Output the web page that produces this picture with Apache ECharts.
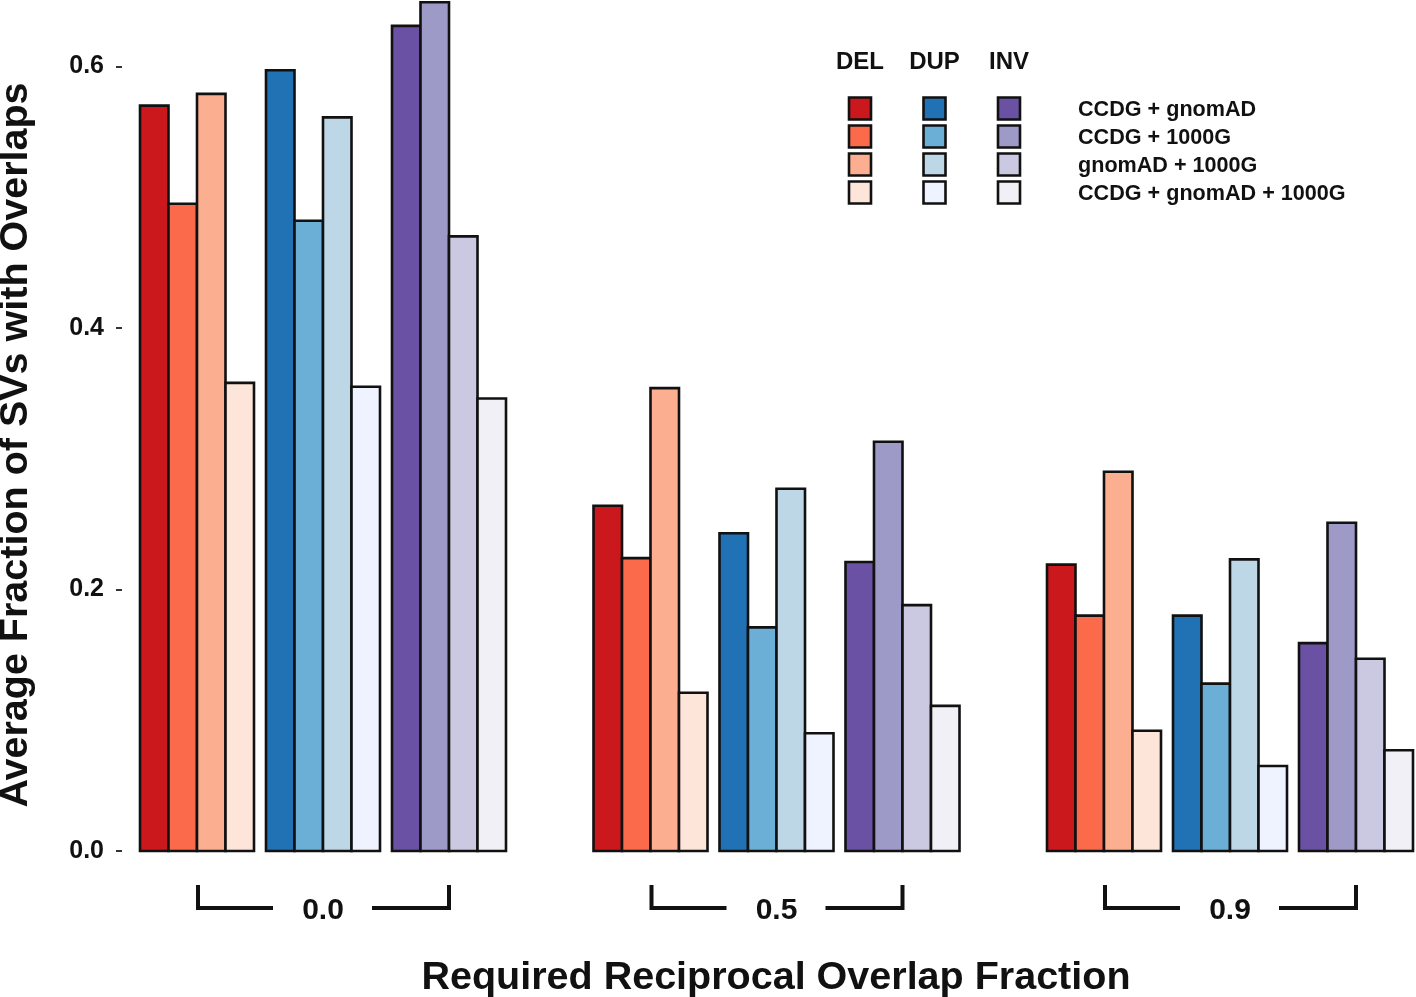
<!DOCTYPE html>
<html>
<head>
<meta charset="utf-8">
<script src="https://cdn.jsdelivr.net/npm/echarts@6/dist/echarts.min.js"></script>
<style>
html,body{margin:0;padding:0;background:#fff;}
#chart{width:1416px;height:997px;}
</style>
</head>
<body>
<div id="chart"></div>
<script>
// ---- data ----
const thresholds = ['0.0', '0.5', '0.9'];
const svTypes = ['DEL', 'DUP', 'INV'];
const sources = ['CCDG + gnomAD', 'CCDG + 1000G', 'gnomAD + 1000G', 'CCDG + gnomAD + 1000G'];
// one row per threshold, one column per source
const delValues = [
  [0.570, 0.495, 0.579, 0.358],
  [0.264, 0.224, 0.354, 0.121],
  [0.219, 0.180, 0.290, 0.092]
];
const dupValues = [
  [0.597, 0.482, 0.561, 0.355],
  [0.243, 0.171, 0.277, 0.090],
  [0.180, 0.128, 0.223, 0.065]
];
const invValues = [
  [0.631, 0.649, 0.470, 0.346],
  [0.221, 0.313, 0.188, 0.111],
  [0.159, 0.251, 0.147, 0.077]
];
const yTickValues = [0, 0.2, 0.4, 0.6];
const yTickLabels = ['0.0', '0.2', '0.4', '0.6'];
const yTitle = 'Average Fraction of SVs with Overlaps';
const xTitle = 'Required Reciprocal Overlap Fraction';

// ---- styles ----
const palettes = [
  ['#cb181d', '#fb6a4a', '#fcae91', '#fee5d9'],
  ['#2171b5', '#6baed6', '#bdd7e7', '#eff3ff'],
  ['#6a51a3', '#9e9ac8', '#cbc9e2', '#f2f0f7']
];
const FONT = "'Liberation Sans', Arial, sans-serif";
const REF_UNIT = 453.5;      // px between threshold groups
const BAR_W = 28.5;          // px
const SUB_PITCH = 126;       // px between DEL/DUP/INV blocks
const GROUP_HALF = 183;      // half of group width

const typeValues = [delValues, dupValues, invValues];

function barSeries(t) {
  const data = [];
  typeValues[t].forEach((row, g) => row.forEach((v, s) => data.push([g, s, v])));
  return {
    type: 'custom',
    name: svTypes[t],
    clip: false,
    encode: { x: 0, y: 2 },
    data: data,
    renderItem: function (params, api) {
      const g = api.value(0), s = api.value(1), v = api.value(2);
      const top = api.coord([g, v]);
      const base = api.coord([g, 0]);
      const k = api.size([1, 0])[0] / REF_UNIT;
      const x0 = top[0] + (-GROUP_HALF + SUB_PITCH * t + BAR_W * s) * k;
      return {
        type: 'rect',
        shape: { x: x0, y: top[1], width: BAR_W * k, height: base[1] - top[1] },
        style: { fill: palettes[t][s], stroke: '#111', lineWidth: 2.6 }
      };
    }
  };
}

const bracketSeries = {
  type: 'custom',
  clip: false,
  silent: true,
  encode: { x: 0, y: 1 },
  data: thresholds.map((lab, g) => [g, 0]),
  renderItem: function (params, api) {
    const g = api.value(0);
    const c = api.coord([g, 0]);
    const k = api.size([1, 0])[0] / REF_UNIT;
    const yTop = c[1] + 34, yLine = c[1] + 57;
    const ls = { stroke: '#111', lineWidth: 4, fill: null };
    return {
      type: 'group',
      children: [
        { type: 'polyline', shape: { points: [[c[0] - 125 * k, yTop], [c[0] - 125 * k, yLine], [c[0] - 50 * k, yLine]] }, style: ls },
        { type: 'polyline', shape: { points: [[c[0] + 49 * k, yLine], [c[0] + 126 * k, yLine], [c[0] + 126 * k, yTop]] }, style: ls },
        { type: 'text', style: { text: thresholds[g], x: c[0], y: yLine + 3, align: 'center', verticalAlign: 'middle', font: 'bold 30px ' + FONT, fill: '#111' } }
      ]
    };
  }
};

// ---- legend as graphic ----
const legendEls = [];
const colX = [860, 934.5, 1009];
svTypes.forEach((name, t) => {
  legendEls.push({ type: 'text', x: colX[t], y: 62, style: { text: name, align: 'center', verticalAlign: 'middle', font: 'bold 24px ' + FONT, fill: '#111' } });
  sources.forEach((src, s) => {
    legendEls.push({ type: 'rect', shape: { x: colX[t] - 11, y: 97.5 + 28 * s, width: 22, height: 22 }, style: { fill: palettes[t][s], stroke: '#111', lineWidth: 2.6 } });
  });
});
sources.forEach((src, s) => {
  legendEls.push({ type: 'text', x: 1078, y: 110 + 28 * s, style: { text: src, align: 'left', verticalAlign: 'middle', font: 'bold 21.6px ' + FONT, fill: '#111' } });
});

const chart = echarts.init(document.getElementById('chart'), null, { renderer: 'canvas' });
chart.setOption({
  backgroundColor: '#ffffff',
  animation: false,
  grid: { left: 122, right: 0, top: 1, bottom: 146, containLabel: false, outerBoundsMode: 'none' },
  xAxis: {
    type: 'value',
    min: -201 / REF_UNIT,
    max: 1093 / REF_UNIT,
    axisLine: { show: false, onZero: false },
    axisTick: { show: false },
    axisLabel: { show: false },
    splitLine: { show: false },
    name: xTitle,
    nameLocation: 'middle',
    nameGap: 107,
    nameTextStyle: { fontFamily: FONT, fontWeight: 'bold', fontSize: 39.5, color: '#111', padding: [0, 0, 0, 14] }
  },
  yAxis: {
    type: 'value',
    min: 0,
    max: 0.65,
    axisLine: { show: false, onZero: false },
    splitLine: { show: false },
    axisTick: { show: true, length: 6, customValues: yTickValues, lineStyle: { color: '#333', width: 2 } },
    axisLabel: {
      customValues: yTickValues,
      margin: 18,
      fontFamily: FONT, fontWeight: 'bold', fontSize: 25, color: '#111',
      formatter: function (v) { const i = yTickValues.indexOf(v); return i >= 0 ? yTickLabels[i] : ''; }
    },
    name: yTitle,
    nameLocation: 'middle',
    nameRotate: 90,
    nameGap: 86,
    nameTextStyle: { fontFamily: FONT, fontWeight: 'bold', fontSize: 39.5, color: '#111', padding: [0, 38, 0, 0] }
  },
  graphic: legendEls,
  series: [barSeries(0), barSeries(1), barSeries(2), bracketSeries]
});
</script>
</body>
</html>
